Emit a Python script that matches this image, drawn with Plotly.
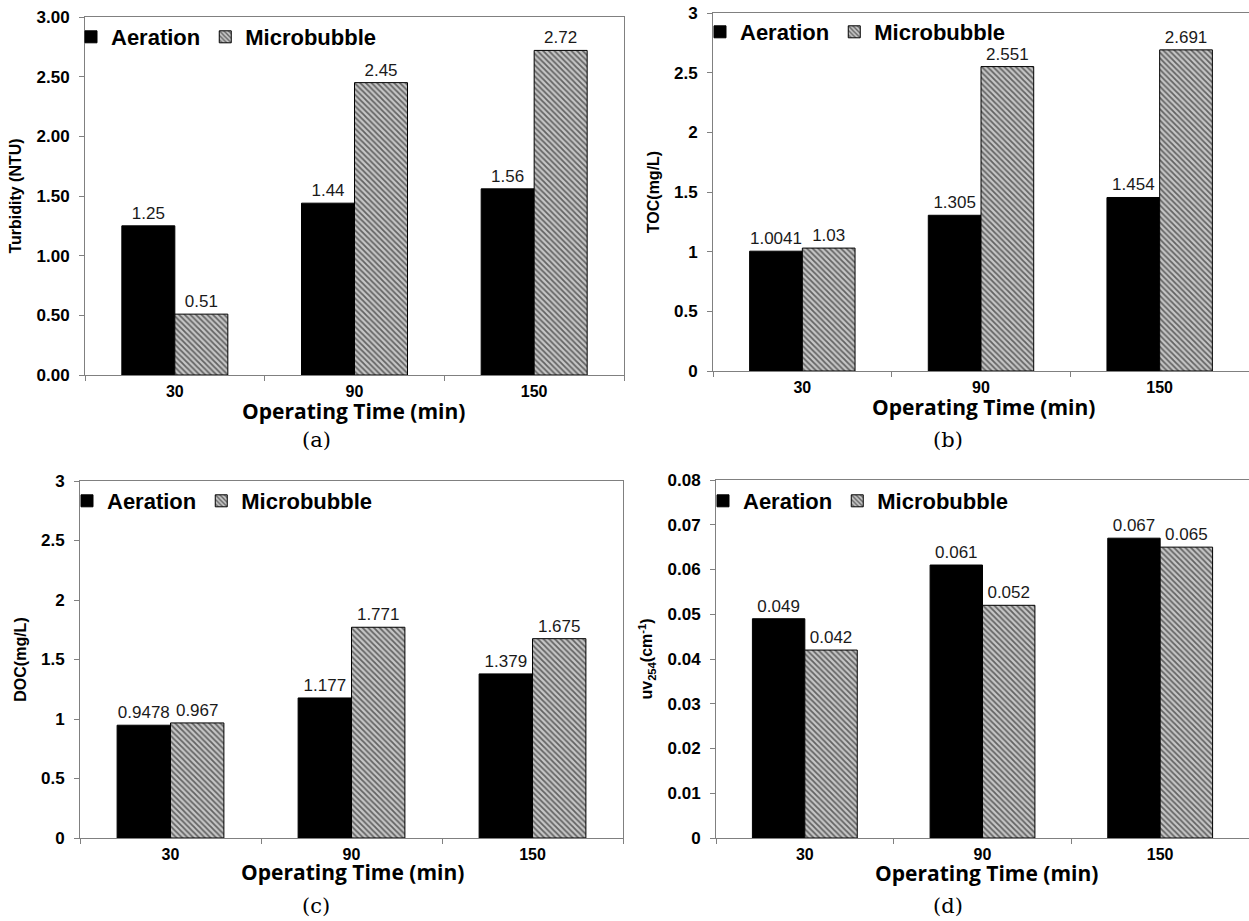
import plotly.graph_objects as go

categories = ["30", "90", "150"]

turbidity_aeration = [1.25, 1.44, 1.56]
turbidity_micro = [0.51, 2.45, 2.72]
toc_aeration = [1.0041, 1.305, 1.454]
toc_micro = [1.03, 2.551, 2.691]
doc_aeration = [0.9478, 1.177, 1.379]
doc_micro = [0.967, 1.771, 1.675]
uv_aeration = [0.049, 0.061, 0.067]
uv_micro = [0.042, 0.052, 0.065]

y_titles = ["Turbidity (NTU)", "TOC(mg/L)", "DOC(mg/L)", "uv<sub>254</sub>(cm<sup>-1</sup>)"]
panel_labels = ["(a)", "(b)", "(c)", "(d)"]
x_title = "Operating Time (min)"

W, H = 1249, 921
SANS = "Liberation Sans, Arial, sans-serif"

panels = [
    dict(a=turbidity_aeration, m=turbidity_micro, x=(85, 624), y=(17, 375), rng=[0, 3], dtick=0.5, fmt=".2f",
         leg=(71, 37), xt=(354, 411), lab=(317, 440)),
    dict(a=toc_aeration, m=toc_micro, x=(713, 1249), y=(13, 371), rng=[0, 3], dtick=0.5, fmt="",
         leg=(700, 32), xt=(983, 407), lab=(948, 440)),
    dict(a=doc_aeration, m=doc_micro, x=(80, 623), y=(481, 838), rng=[0, 3], dtick=0.5, fmt="",
         leg=(67, 501), xt=(352, 872), lab=(316, 906)),
    dict(a=uv_aeration, m=uv_micro, x=(716, 1249), y=(480, 838), rng=[0, 0.08], dtick=0.01, fmt="",
         leg=(703, 501), xt=(986, 873), lab=(948, 906)),
]

fig = go.Figure()
annotations = []
for i, p in enumerate(panels):
    sfx = "" if i == 0 else str(i + 1)
    leg = "legend" + sfx
    fig.add_trace(go.Bar(
        x=categories, y=p["a"], name="Aeration",
        marker=dict(color="black", line=dict(color="black", width=1)),
        text=[str(v) for v in p["a"]], textposition="outside", constraintext="none",
        textfont=dict(family=SANS, size=17, color="#1a1a1a"), cliponaxis=False,
        xaxis="x" + sfx, yaxis="y" + sfx, legend=leg,
    ))
    fig.add_trace(go.Bar(
        x=categories, y=p["m"], name="Microbubble",
        marker=dict(color="#c6c6c6", line=dict(color="black", width=1),
                    pattern=dict(shape="\\", fgcolor="black", bgcolor="#c6c6c6", size=4, solidity=0.45)),
        text=[str(v) for v in p["m"]], textposition="outside", constraintext="none",
        textfont=dict(family=SANS, size=17, color="#1a1a1a"), cliponaxis=False,
        xaxis="x" + sfx, yaxis="y" + sfx, legend=leg,
    ))
    xd = [p["x"][0] / W, min(1.0, p["x"][1] / W)]
    yd = [1 - p["y"][1] / H, 1 - p["y"][0] / H]
    xa = dict(domain=xd, type="category", range=[-0.5, 2.5], anchor="y" + sfx, automargin=False,
              showline=True, linecolor="#808080", linewidth=1, mirror=True,
              ticks="outside", tickson="boundaries", ticklen=5, tickcolor="#808080",
              tickfont=dict(family=SANS, size=16, color="black", weight="bold"),
              ticklabelstandoff=2, showgrid=False, zeroline=False)
    ya = dict(domain=yd, range=p["rng"], dtick=p["dtick"], anchor="x" + sfx, automargin=False,
              showline=True, linecolor="#808080", linewidth=1, mirror=True,
              ticks="outside", ticklen=5, tickcolor="#808080",
              tickfont=dict(family=SANS, size=17, color="black", weight="bold"),
              ticklabelstandoff=6, showgrid=False, zeroline=False,
              title=dict(text=y_titles[i], font=dict(family=SANS, size=16, color="black", weight="bold"),
                         standoff=10))
    if p["fmt"]:
        ya["tickformat"] = p["fmt"]
    fig.layout["xaxis" + sfx] = xa
    fig.layout["yaxis" + sfx] = ya
    fig.layout[leg] = dict(
        x=p["leg"][0] / W, y=1 - p["leg"][1] / H, xanchor="left", yanchor="middle",
        orientation="h", bgcolor="rgba(0,0,0,0)", itemwidth=30, tracegroupgap=0,
        font=dict(family=SANS, size=22, color="black", weight="bold"),
    )
    annotations.append(dict(text=x_title, x=p["xt"][0] / W, y=1 - p["xt"][1] / H, xref="paper", yref="paper",
                            showarrow=False, xanchor="center", yanchor="middle",
                            font=dict(family="Open Sans, Noto Sans, sans-serif", size=21, color="black", weight="bold")))
    annotations.append(dict(text=panel_labels[i], x=p["lab"][0] / W, y=1 - p["lab"][1] / H, xref="paper", yref="paper",
                            showarrow=False, xanchor="center", yanchor="middle",
                            font=dict(family="DejaVu Serif, serif", size=21, color="black")))

fig.update_layout(
    width=W, height=H, margin=dict(l=0, r=0, t=0, b=0, autoexpand=False),
    paper_bgcolor="white", plot_bgcolor="white",
    barmode="group", bargap=0.41, bargroupgap=0,
    annotations=annotations, showlegend=True,
)

fig.write_html("out.html", config={"displayModeBar": False},
               post_script="document.body.style.margin='0px';")
